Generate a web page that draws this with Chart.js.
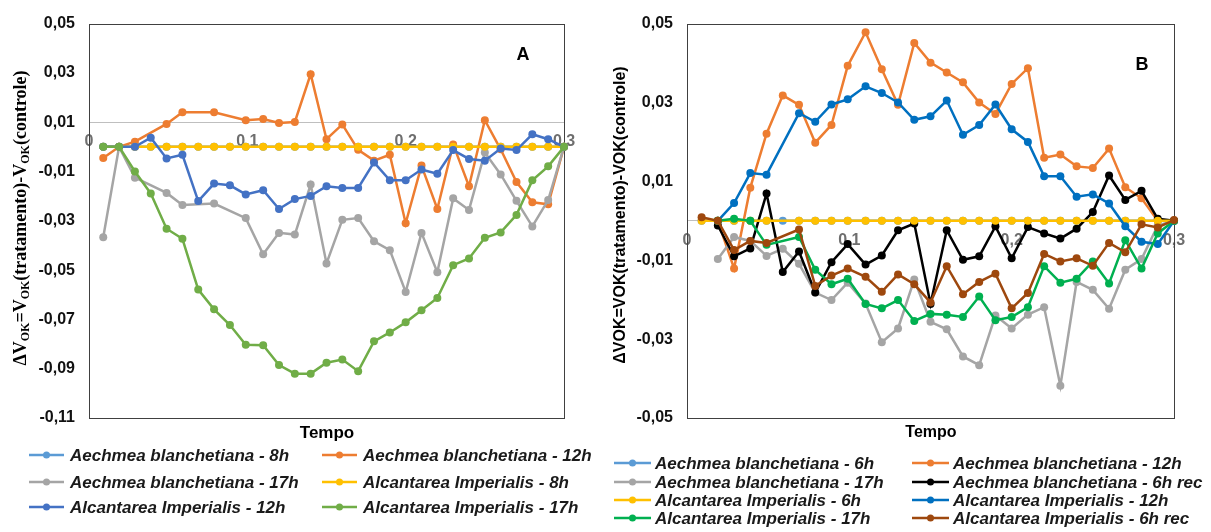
<!DOCTYPE html>
<html>
<head>
<meta charset="utf-8">
<script src="https://cdn.jsdelivr.net/npm/chart.js@4.4.1/dist/chart.umd.min.js"></script>
<style>
  body { margin: 0; background: #fff; width: 1211px; height: 532px; overflow: hidden; position: relative; }
  canvas { position: absolute; top: 0; }
  #chartA { left: 0; }
  #chartB { left: 600px; }
</style>
</head>
<body>
<canvas id="chartA" width="600" height="532"></canvas>
<canvas id="chartB" width="611" height="532"></canvas>
<script>
// tempo of each reading (same for both panels)
const tempo = [0.009, 0.019, 0.029, 0.039, 0.049, 0.059, 0.069, 0.079, 0.089, 0.099,
  0.11, 0.12, 0.13, 0.14, 0.15, 0.16, 0.17, 0.18, 0.19, 0.2,
  0.21, 0.22, 0.23, 0.24, 0.25, 0.26, 0.27, 0.28, 0.29, 0.3];

const xTicks = [0, 0.1, 0.2, 0.3];
const yTicksA = [0.05, 0.03, 0.01, -0.01, -0.03, -0.05, -0.07, -0.09, -0.11];
const yTicksB = [0.05, 0.03, 0.01, -0.01, -0.03, -0.05];

// panel A
const labelsA = ['Aechmea blanchetiana - 8h', 'Aechmea blanchetiana - 12h', 'Aechmea blanchetiana - 17h',
  'Alcantarea Imperialis - 8h', 'Alcantarea Imperialis - 12h', 'Alcantarea Imperialis - 17h'];
const colorsA = ['#5B9BD5', '#ED7D31', '#A5A5A5', '#FFC000', '#4472C4', '#70AD47'];

const ab8A = [0, 0, 0, 0, 0, 0, 0, 0, 0, 0, 0, 0, 0, 0, 0, 0, 0, 0, 0, 0, 0, 0, 0, 0, 0, 0, 0, 0, 0, 0];
const ab12A = [-0.0045, 0, 0.0021, null, 0.0093, 0.014, null, 0.014, null, 0.0108,
  0.0113, 0.0097, 0.0101, 0.0295, 0.0031, 0.0091, -0.0012, -0.0056, -0.0032, -0.031,
  -0.0076, -0.0252, 0.001, -0.016, 0.0108, -0.001, -0.0143, -0.0225, -0.0233, 0];
const ab17A = [-0.0367, 0, -0.0125, null, -0.0187, -0.0236, null, -0.023, null, -0.0289,
  -0.0436, -0.0349, -0.0356, -0.0153, -0.0473, -0.0296, -0.0289, -0.0383, -0.0419, -0.0589,
  -0.0349, -0.0509, -0.0209, -0.0256, -0.0023, -0.0112, -0.0219, -0.0323, -0.0216, 0];
const ai8A = [0, 0, 0, 0, 0, 0, 0, 0, 0, 0, 0, 0, 0, 0, 0, 0, 0, 0, 0, 0, 0, 0, 0, 0, 0, 0, 0, 0, 0, 0];
const ai12A = [0, 0, 0, 0.0037, -0.0047, -0.0032, -0.022, -0.0149, -0.0156, -0.0193,
  -0.0176, -0.0252, -0.0212, -0.0199, -0.016, -0.0167, -0.0167, -0.0063, -0.0136, -0.0136,
  -0.0092, -0.0109, -0.0013, -0.0049, -0.0056, -0.0007, -0.0013, 0.0051, 0.0031, 0];
const ai17A = [0, 0, -0.01, -0.0189, -0.0332, -0.0373, -0.0579, -0.0659, -0.0723, -0.0803,
  -0.0805, -0.0885, -0.092, -0.092, -0.0876, -0.0863, -0.091, -0.0789, -0.0753, -0.0712,
  -0.0663, -0.0613, -0.048, -0.0453, -0.0369, -0.0347, -0.0276, -0.0136, -0.0079, 0];

// panel B
const labelsB = ['Aechmea blanchetiana - 6h', 'Aechmea blanchetiana - 12h', 'Aechmea blanchetiana - 17h',
  'Aechmea blanchetiana - 6h rec', 'Alcantarea Imperialis - 6h', 'Alcantarea Imperialis - 12h',
  'Alcantarea Imperialis - 17h', 'Alcantarea Imperialis - 6h rec'];
const colorsB = ['#5B9BD5', '#ED7D31', '#A5A5A5', '#000000', '#FFC000', '#0070C0', '#00B050', '#9E480E'];

const ab6B = [0, 0, 0, 0, 0, 0, 0, 0, 0, 0, 0, 0, 0, 0, 0, 0, 0, 0, 0, 0, 0, 0, 0, 0, 0, 0, 0, 0, 0, 0];
const ab12B = [null, 0, -0.0121, 0.0084, 0.0221, 0.0318, 0.0294, 0.0198, 0.0243, 0.0393,
  0.0478, 0.0384, 0.0294, 0.0451, 0.0401, 0.0376, 0.0351, 0.03, 0.0271, 0.0347,
  0.0387, 0.016, 0.0168, 0.0138, 0.0134, 0.0183, 0.0085, 0.0057, 0, 0];
const ab17B = [null, -0.0097, -0.0041, -0.0051, -0.0089, -0.0071, -0.0109, -0.0182, -0.0201, -0.0157,
  -0.021, -0.0308, -0.0273, -0.0149, -0.0256, -0.0275, -0.0344, -0.0366, -0.024, -0.0273,
  -0.0238, -0.0219, -0.0418, -0.0155, -0.0175, -0.0223, -0.0124, -0.0097, -0.0012, 0];
const ab6recB = [null, -0.0012, -0.009, -0.007, 0.0069, -0.013, -0.0078, -0.0182, -0.0105, -0.0059,
  -0.0111, -0.0088, -0.0024, -0.0007, -0.0211, -0.0024, -0.0099, -0.009, -0.0014, -0.0095,
  -0.0016, -0.0032, -0.0045, -0.002, 0.0022, 0.0115, 0.0053, 0.0076, 0.0005, 0];
const ai6B = [0, 0, 0, 0, 0, null, 0, 0, 0, 0, 0, 0, 0, 0, 0, 0, 0, 0, 0, 0, 0, 0, 0, 0, 0, 0, 0, 0, 0, 0];
const ai12B = [null, 0, 0.0045, 0.0121, 0.0117, null, 0.0273, 0.0251, 0.0295, 0.0308,
  0.0341, 0.0324, 0.03, 0.0256, 0.0265, 0.0305, 0.0218, 0.0243, 0.0295, 0.0232,
  0.02, 0.0113, 0.0113, 0.0061, 0.0067, 0.0044, -0.0014, -0.0053, -0.0059, 0];
const ai17B = [null, 0, 0.0005, 0, -0.0061, null, -0.0041, -0.0124, -0.0161, -0.0147,
  -0.0211, -0.0222, -0.0201, -0.0254, -0.0236, -0.0238, -0.0244, -0.0192, -0.0252, -0.0244,
  -0.0219, -0.0115, -0.0157, -0.0147, -0.0103, -0.0159, -0.0049, -0.0121, -0.0032, 0];
const ai6recB = [0.0009, 0, -0.0074, -0.0051, -0.0056, null, -0.0022, -0.0165, -0.0139, -0.0121,
  -0.0142, -0.018, -0.0136, -0.0161, -0.0207, -0.0115, -0.0186, -0.0155, -0.0134, -0.0222,
  -0.0183, -0.0084, -0.0103, -0.0095, -0.0114, -0.0056, -0.008, -0.0009, -0.0017, 0.0002];

const SANS = '"Liberation Sans", Arial, sans-serif';
const comma = v => (v === 0 ? '0' : String(v).replace('.', ','));

function makeSets(labels, colors, series) {
  const n = series.length;
  return series.map((s, i) => ({
    label: labels[i],
    data: s.map((v, k) => ({ x: tempo[k], y: v })),
    borderColor: colors[i],
    backgroundColor: colors[i],
    borderWidth: 2.5,
    pointRadius: 4,
    pointHoverRadius: 4,
    pointBorderWidth: 0,
    spanGaps: true,
    tension: 0,
    clip: 8,
    order: n - i   // later series drawn on top, like the original
  }));
}

// frame, free texts and legend
const decor = {
  id: 'decor',
  beforeDatasetsDraw(chart, args, o) {
    const { ctx, chartArea: a } = chart;
    ctx.save();
    ctx.strokeStyle = '#404040';
    ctx.lineWidth = 1;
    ctx.strokeRect(Math.round(a.left) + 0.5, Math.round(a.top) + 0.5,
      Math.round(a.right - a.left), Math.round(a.bottom - a.top));
    ctx.restore();
  },
  afterDraw(chart, args, o) {
    const ctx = chart.ctx;
    ctx.save();
    ctx.fillStyle = '#000';
    ctx.textBaseline = 'middle';

    // rotated y title with subscripts
    const t = o.yTitle;
    ctx.font = t.font;
    let total = 0;
    t.parts.forEach(p => {
      ctx.font = p.sub ? t.subFont : t.font;
      p.w = ctx.measureText(p.t).width;
      total += p.w;
    });
    ctx.translate(t.x, t.y);
    ctx.rotate(-Math.PI / 2);
    let cx = -total / 2;
    ctx.textAlign = 'left';
    t.parts.forEach(p => {
      ctx.font = p.sub ? t.subFont : t.font;
      ctx.fillText(p.t, cx, p.sub ? t.subShift : 0);
      cx += p.w;
    });
    ctx.setTransform(1, 0, 0, 1, 0, 0);

    o.texts.forEach(s => {
      ctx.font = s.font;
      ctx.textAlign = 'center';
      ctx.fillText(s.t, s.x, s.y);
    });

    // legend, two columns
    const L = o.legend;
    chart.data.datasets.forEach((ds, i) => {
      const col = i % 2, row = Math.floor(i / 2);
      const x0 = L.cols[col], y = L.rows[row];
      ctx.strokeStyle = ds.borderColor;
      ctx.fillStyle = ds.borderColor;
      ctx.lineWidth = 2.5;
      ctx.beginPath();
      ctx.moveTo(x0, y);
      ctx.lineTo(x0 + L.line, y);
      ctx.stroke();
      ctx.beginPath();
      ctx.arc(x0 + L.line / 2, y, 3.5, 0, Math.PI * 2);
      ctx.fill();
      ctx.fillStyle = '#1a1a1a';
      ctx.font = L.font;
      ctx.textAlign = 'left';
      ctx.fillText(ds.label, x0 + L.line + L.gap, y + 1);
    });
    ctx.restore();
  }
};

function makeChart(id, sets, yTicks, yMin, yMax, axisAt, pad, yWidth, decorOpts) {
  return new Chart(document.getElementById(id), {
    type: 'line',
    data: { datasets: sets },
    options: {
      responsive: false,
      animation: false,
      devicePixelRatio: 1,
      layout: { padding: pad },
      plugins: { legend: { display: false }, tooltip: { enabled: false }, decor: decorOpts },
      scales: {
        x: {
          type: 'linear',
          position: { y: axisAt },
          min: 0, max: 0.3,
          afterBuildTicks: s => { s.ticks = xTicks.map(v => ({ value: v })); },
          grid: { display: false, drawTicks: false },
          border: { display: true, color: '#BFBFBF', width: 1 },
          ticks: {
            padding: 10,
            color: '#6E6E6E',
            font: { family: SANS, size: 16, weight: 'bold' },
            callback: v => comma(v),
            maxRotation: 0
          }
        },
        y: {
          type: 'linear',
          min: yMin, max: yMax,
          afterBuildTicks: s => { s.ticks = yTicks.map(v => ({ value: v })); },
          afterFit: s => { s.width = yWidth; },
          grid: { display: false, drawTicks: false },
          border: { display: false },
          ticks: {
            padding: 14,
            color: '#111',
            font: { family: SANS, size: 16, weight: 'bold' },
            callback: v => v.toFixed(2).replace('.', ',')
          }
        }
      }
    },
    plugins: [decor]
  });
}

makeChart('chartA',
  makeSets(labelsA, colorsA, [ab8A, ab12A, ab17A, ai8A, ai12A, ai17A]),
  yTicksA, -0.11, 0.05, 0.01,
  { left: 9, right: 36, top: 18, bottom: 114 }, 80,
  {
    yTitle: {
      x: 21, y: 218,
      font: 'bold 18px "Liberation Serif", serif', subFont: 'bold 12px "Liberation Serif", serif', subShift: 5,
      parts: [{ t: '\u0394V' }, { t: 'OK', sub: true }, { t: '=V' }, { t: 'OK', sub: true },
        { t: '(tratamento)-V' }, { t: 'OK', sub: true }, { t: '(controle)' }]
    },
    texts: [
      { t: 'Tempo', x: 327, y: 433, font: 'bold 17px ' + SANS },
      { t: 'A', x: 523, y: 55, font: 'bold 18px ' + SANS }
    ],
    legend: { cols: [29, 322], rows: [455, 482, 507], line: 35, gap: 6, font: 'italic bold 17px ' + SANS }
  });

makeChart('chartB',
  makeSets(labelsB, colorsB, [ab6B, ab12B, ab17B, ab6recB, ai6B, ai12B, ai17B, ai6recB]),
  yTicksB, -0.05, 0.05, 0,
  { left: 7, right: 37, top: 17, bottom: 114 }, 80,
  {
    yTitle: {
      x: 21, y: 215,
      font: 'bold 16px ' + SANS, subFont: 'bold 16px ' + SANS, subShift: 0,
      parts: [{ t: '\u0394VOK=VOK(tratamento)-VOK(controle)' }]
    },
    texts: [
      { t: 'Tempo', x: 331, y: 433, font: 'bold 16px ' + SANS },
      { t: 'B', x: 542, y: 65, font: 'bold 18px ' + SANS }
    ],
    legend: { cols: [14, 312], rows: [463, 482, 500, 518], line: 37, gap: 4, font: 'italic bold 17px ' + SANS }
  });
</script>
</body>
</html>
